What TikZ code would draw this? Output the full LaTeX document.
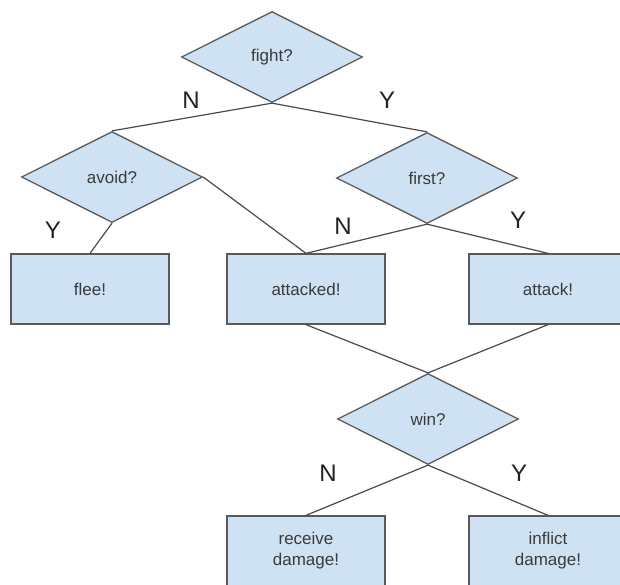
\documentclass[tikz,border=0pt]{standalone}
\usepackage{fontspec}
\setmainfont{Liberation Sans}
\usetikzlibrary{shapes.geometric}
\definecolor{boxfill}{HTML}{CFE2F3}
\definecolor{boxedge}{HTML}{595959}
\definecolor{boxtext}{HTML}{3A3A3A}
\definecolor{linkcol}{HTML}{4A4A4A}
\definecolor{labcol}{HTML}{222222}
\begin{document}
\begin{tikzpicture}[x=1pt,y=-1pt,
  decision/.style={diamond, draw=boxedge, fill=boxfill, line width=1.3pt,
    minimum width=181pt, minimum height=91pt, inner sep=0pt,
    font=\fontsize{17}{21}\selectfont, text=boxtext},
  action/.style={rectangle, draw=boxedge, fill=boxfill, line width=1.3pt,
    minimum width=158pt, minimum height=70pt, inner sep=0pt, align=center,
    font=\fontsize{17}{21}\selectfont, text=boxtext},
  link/.style={draw=linkcol, line width=1.2pt},
  answer/.style={font=\fontsize{24}{24}\selectfont, text=labcol, inner sep=0pt}]
\useasboundingbox (0,0) rectangle (620,584);
\clip (0,0) rectangle (620,584);

% questions
\node[decision] (fight) at (272,57) {fight?};
\node[decision] (avoid) at (112,177) {avoid?};
\node[decision] (first) at (427,178) {first?};
\node[decision] (win) at (428,419) {win?};

% outcomes
\node[action] (flee) at (90,289) {flee!};
\node[action] (attacked) at (306,289) {attacked!};
\node[action] (attack) at (548,289) {attack!};
\node[action] (receive) at (306,551) {receive\\damage!};
\node[action] (inflict) at (548,551) {inflict\\damage!};

% connectors
\draw[link] (fight.south) -- (avoid.north);
\draw[link] (fight.south) -- (first.north);
\draw[link] (avoid.south) -- (flee.north);
\draw[link] (avoid.east) -- (attacked.north);
\draw[link] (first.south) -- (attacked.north);
\draw[link] (first.south) -- (attack.north);
\draw[link] (attacked.south) -- (win.north);
\draw[link] (attack.south) -- (win.north);
\draw[link] (win.south) -- (receive.north);
\draw[link] (win.south) -- (inflict.north);

% branch answers
\node[answer] (fightN) at (191,100) {N};
\node[answer] (fightY) at (387,100) {Y};
\node[answer] (avoidY) at (53,230) {Y};
\node[answer] (firstN) at (343,226) {N};
\node[answer] (firstY) at (518,220) {Y};
\node[answer] (winN) at (328,473) {N};
\node[answer] (winY) at (519,473) {Y};
\end{tikzpicture}
\end{document}
